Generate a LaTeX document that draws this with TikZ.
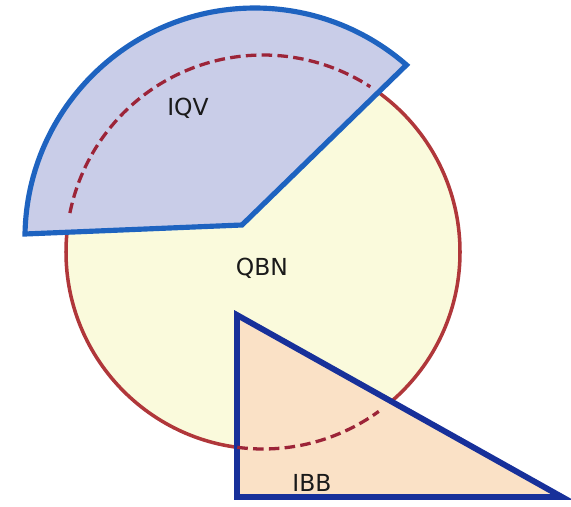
\documentclass[tikz,border=0pt]{standalone}
\usepackage{fontspec}
\setmainfont{DejaVu Sans}
\definecolor{qbred}{HTML}{B0373A}
\definecolor{qbdash}{HTML}{9C2438}
\definecolor{qbyellow}{HTML}{FAFADC}
\definecolor{qblav}{HTML}{C9CDE8}
\definecolor{qbblue}{HTML}{1E63C0}
\definecolor{qbnavy}{HTML}{17309A}
\definecolor{qbpeach}{HTML}{FAE1C6}
\definecolor{qbink}{HTML}{1A1A1A}
\tikzset{
  qb circle/.style={draw=qbred, fill=qbyellow, line width=3pt},
  qb slice/.style={draw=qbblue, fill=qblav, line width=4.4pt, line join=miter},
  qb wedge/.style={draw=qbnavy, fill=qbpeach, line width=5pt, line join=miter},
  qb hidden/.style={draw=qbdash, line width=2.8pt, dash pattern=on 9pt off 4.5pt},
  qb label/.style={font=\fontsize{20}{24}\selectfont, text=qbink}
}

\begin{document}
\begin{tikzpicture}[x=0.03cm, y=0.03cm]
  \useasboundingbox (0,0) rectangle (571,506);
  \draw[qb circle] (263,254) circle[radius=197];
  \draw[qb slice] (242,281) -- (25,272) arc[start angle=179, end angle=48.8, radius=230] -- cycle;
  \draw[qb hidden] ([shift={(168.6:197)}]263,254) arc[start angle=168.6, end angle=57, radius=197];
  \draw[qb wedge] (237,191) -- (237,9) -- (562,9) -- cycle;
  \draw[qb hidden] ([shift={(-97.5:197)}]263,254) arc[start angle=-97.5, end angle=-54, radius=197];
  \node[qb label] (iqv) at (188,398) {IQV};
  \node[qb label] (qbn) at (262,238) {QBN};
  \node[qb label] (ibb) at (312,23) {IBB};
\end{tikzpicture}
\end{document}
